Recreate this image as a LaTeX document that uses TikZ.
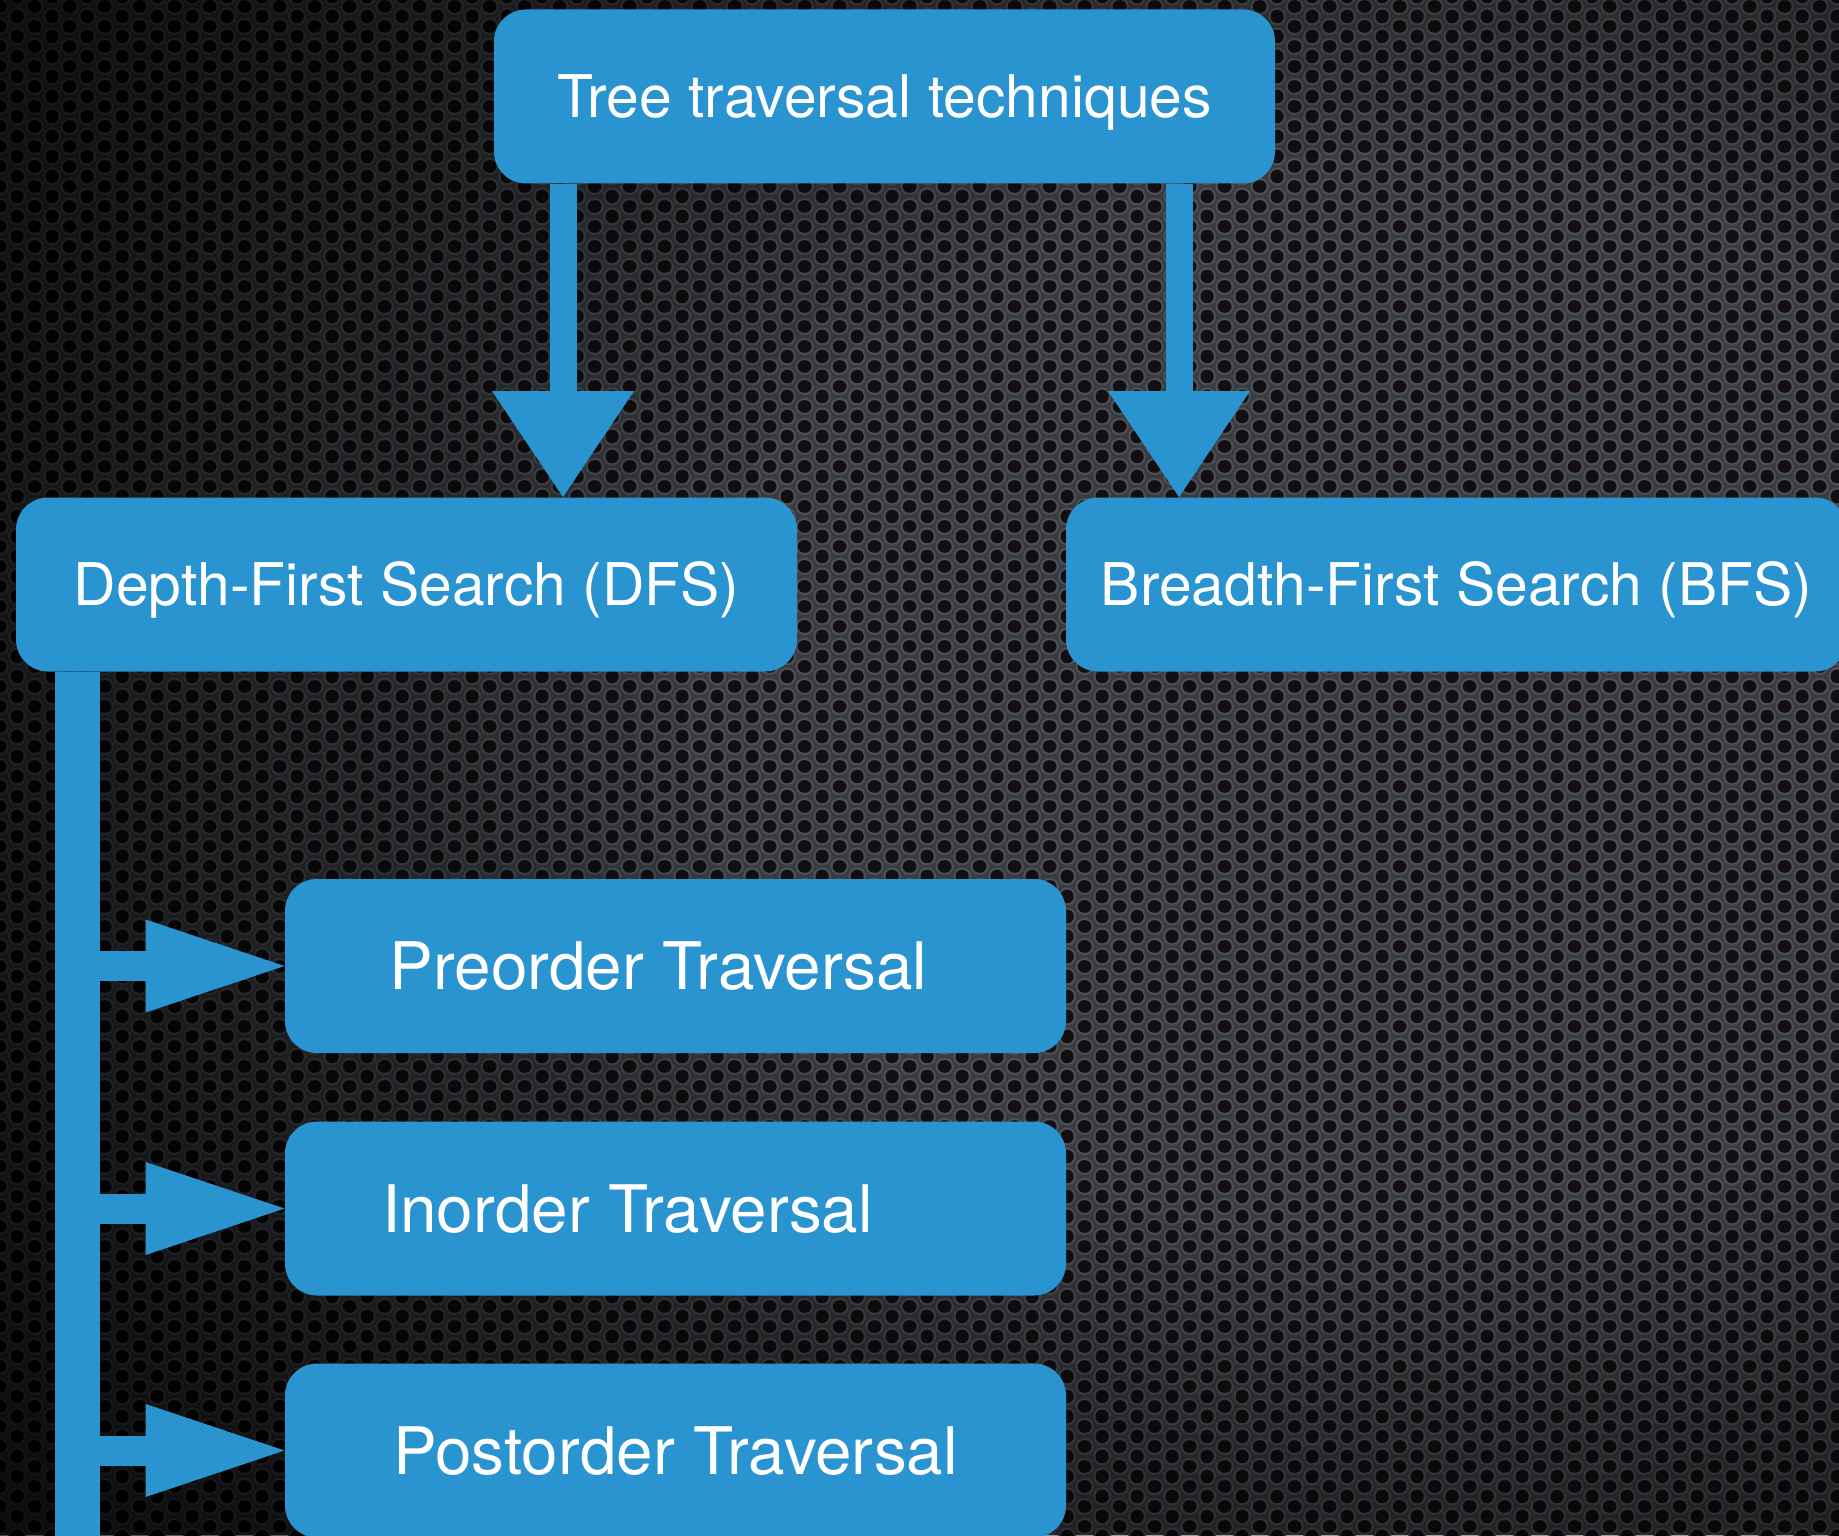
\documentclass[tikz,border=0pt]{standalone}
\usepackage{fontspec}
\setmainfont{TeX Gyre Heros}
\usetikzlibrary{arrows.meta,patterns}

\definecolor{boxblue}{RGB}{41,148,208}
\definecolor{plate}{RGB}{56,59,64}
\definecolor{rim}{RGB}{76,80,86}
\definecolor{hole}{RGB}{19,15,17}

% perforated metal plate: staggered columns of holes with a lighter rim
\pgfdeclarepatterninherentlycolored{perforated}
  {\pgfpointorigin}{\pgfqpoint{17.32pt}{10pt}}
  {\pgfqpoint{17.32pt}{10pt}}
  {
    \pgfsetfillcolor{rim}
    \pgfpathcircle{\pgfqpoint{0pt}{5pt}}{4.5pt}
    \pgfpathcircle{\pgfqpoint{17.32pt}{5pt}}{4.5pt}
    \pgfpathcircle{\pgfqpoint{8.66pt}{0pt}}{4.5pt}
    \pgfpathcircle{\pgfqpoint{8.66pt}{10pt}}{4.5pt}
    \pgfusepath{fill}
    \pgfsetfillcolor{hole}
    \pgfpathcircle{\pgfqpoint{0pt}{5pt}}{3.3pt}
    \pgfpathcircle{\pgfqpoint{17.32pt}{5pt}}{3.3pt}
    \pgfpathcircle{\pgfqpoint{8.66pt}{0pt}}{3.3pt}
    \pgfpathcircle{\pgfqpoint{8.66pt}{10pt}}{3.3pt}
    \pgfusepath{fill}
  }

\begin{document}
\begin{tikzpicture}[x=0.5pt,y=-0.5pt,
  box/.style={rectangle, rounded corners=16pt, fill=boxblue, text=white,
    minimum width=390.5pt, minimum height=87pt, inner sep=0pt},
  headtext/.style={font=\fontsize{29.4pt}{34pt}\selectfont,
    text height=21.1pt, text depth=0pt},
  leaftext/.style={font=\fontsize{32.8pt}{38pt}\selectfont,
    text height=23.5pt, text depth=0pt},
  flow/.style={draw=boxblue, line width=13.5pt,
    -{Triangle[width=71pt,length=53pt,line width=0pt]}},
  trunkline/.style={draw=boxblue, line width=22.5pt},
  branch/.style={draw=boxblue, line width=15pt,
    -{Triangle[width=46.5pt,length=69.5pt,line width=0pt]}},
  shadowring/.style={black, fill opacity=0.058, even odd rule},
]
\useasboundingbox (0,0) rectangle (1839,1535);

% background plate
\fill[plate] (0,0) rectangle (1839,1535);
\fill[pattern=perforated] (0,0) rectangle (1839,1535);
% the plate darkens away from its lit centre, in soft steps
\foreach \k in {0,...,20}{
  \pgfmathsetmacro\ry{550+40*\k}
  \fill[shadowring] (-10,-10) rectangle (1850,1545)
    (1400,700) ellipse [x radius={1.3*\ry}, y radius=\ry];
}

% boxes
\node[box, headtext] (root) at (884.5,96.5) {Tree traversal techniques};
\node[box, headtext] (dfs)  at (406.5,584.5) {Depth-First Search (DFS)};
\node[box, headtext] (bfs)  at (1456.5,584.5) {Breadth-First Search (BFS)};
\node[box, leaftext] (pre)  at (675.5,966) {Preorder Traversal\hspace*{17pt}};
\node[box, leaftext] (in)   at (675.5,1208.5) {Inorder Traversal\hspace*{48pt}};
\node[box, leaftext] (post) at (675.5,1450.5) {Postorder Traversal};

% connectors
\coordinate (lx) at (563,0);
\coordinate (rx) at (1179,0);
\coordinate (trunk) at (77.5,0);
\coordinate (trunkend) at (77.5,1560);

\draw[flow] (root.south -| lx) -- (dfs.north -| lx);
\draw[flow] (root.south -| rx) -- (bfs.north -| rx);

\draw[trunkline] (dfs.south -| trunk) -- (trunkend);
\draw[branch] (pre.west -| trunk) -- (pre.west);
\draw[branch] (in.west -| trunk) -- (in.west);
\draw[branch] (post.west -| trunk) -- (post.west);
\end{tikzpicture}
\end{document}
